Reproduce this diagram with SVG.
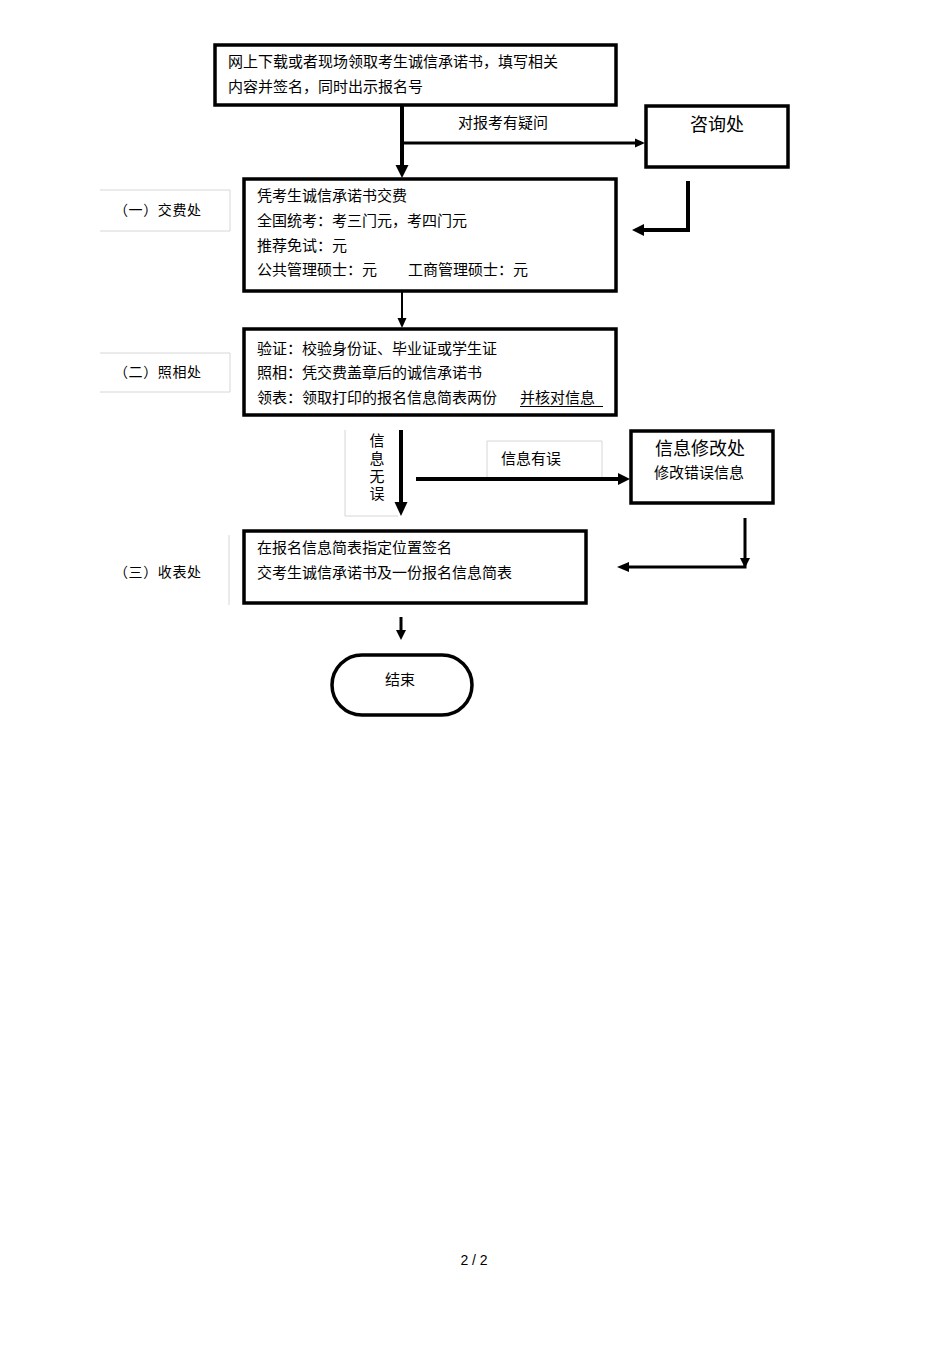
<svg xmlns="http://www.w3.org/2000/svg" width="950" height="1345" viewBox="0 0 950 1345">
<style>
.box{fill:#fff;stroke:#000;stroke-width:3.5}
.t{font-family:"Liberation Serif","Noto Sans CJK SC",serif;font-size:15px;fill:#000}
.tb{font-family:"Liberation Serif","Noto Sans CJK SC",serif;font-size:18px;fill:#000}
.lbl{font-family:"Liberation Serif","Noto Sans CJK SC",serif;font-size:14px;fill:#000}
.faint{fill:none;stroke:#d6d6d6;stroke-width:1}
.ln{fill:none;stroke:#000}
.head{fill:#000}
</style>
<rect width="950" height="1345" fill="#fff"/>

<g id="label-1">
<path class="faint" d="M100,190 H230 V231 H100"/>
<text class="lbl" x="114" y="215" textLength="87">（一）交费处</text>
</g>
<g id="label-2">
<path class="faint" d="M100,353 H230 V392 H100"/>
<text class="lbl" x="114" y="377" textLength="87">（二）照相处</text>
</g>
<g id="label-3">
<path class="faint" d="M229,535 V605"/>
<text class="lbl" x="114" y="577" textLength="87">（三）收表处</text>
</g>

<g id="connectors">
<line class="ln" x1="402" y1="106" x2="402" y2="166" stroke-width="4"/>
<polygon class="head" points="395.5,165 408.5,165 402,178"/>
<line class="ln" x1="402" y1="143" x2="636" y2="143" stroke-width="3"/>
<polygon class="head" points="635,138.5 635,147.5 645,143"/>
<path class="ln" d="M688,181 V230 H643" stroke-width="4"/>
<polygon class="head" points="644,224 644,236 632,230"/>
<line class="ln" x1="402" y1="292" x2="402" y2="319" stroke-width="2"/>
<polygon class="head" points="397.5,318 406.5,318 402,328"/>
<line class="ln" x1="401" y1="430" x2="401" y2="503" stroke-width="4"/>
<polygon class="head" points="394.5,502 407.5,502 401,516"/>
<line class="ln" x1="416" y1="479" x2="619" y2="479" stroke-width="4"/>
<polygon class="head" points="618,473 618,485 630,479"/>
<path class="ln" d="M745,518 V567 H628" stroke-width="3"/>
<polygon class="head" points="740,558 750,558 745,568"/>
<polygon class="head" points="629,562 629,572 617,567"/>
<line class="ln" x1="401" y1="617" x2="401" y2="631" stroke-width="3"/>
<polygon class="head" points="396,630 406,630 401,640"/>
</g>

<g id="edge-label-question">
<text class="t" x="458" y="128">对报考有疑问</text>
</g>
<g id="edge-label-ok">
<path class="faint" d="M345,430 V516 H398"/>
<text class="t" x="377" y="446" text-anchor="middle">信</text>
<text class="t" x="377" y="464" text-anchor="middle">息</text>
<text class="t" x="377" y="482" text-anchor="middle">无</text>
<text class="t" x="377" y="499" text-anchor="middle">误</text>
</g>
<g id="edge-label-error">
<path class="faint" d="M487,477 V441 H602 V477"/>
<text class="t" x="501" y="464">信息有误</text>
</g>

<g id="node-start">
<rect class="box" x="215" y="45" width="401" height="60"/>
<text class="t" x="228" y="67">网上下载或者现场领取考生诚信承诺书，填写相关</text>
<text class="t" x="228" y="92">内容并签名，同时出示报名号</text>
</g>
<g id="node-consult">
<rect class="box" x="646" y="106" width="142" height="61"/>
<text class="tb" x="717" y="131" text-anchor="middle">咨询处</text>
</g>
<g id="node-fee">
<rect class="box" x="244" y="179" width="372" height="112"/>
<text class="t" x="257" y="201">凭考生诚信承诺书交费</text>
<text class="t" x="257" y="226">全国统考：考三门元，考四门元</text>
<text class="t" x="257" y="251">推荐免试：元</text>
<text class="t" x="257" y="275">公共管理硕士：元</text>
<text class="t" x="408" y="275">工商管理硕士：元</text>
</g>
<g id="node-photo">
<rect class="box" x="244" y="329" width="372" height="86"/>
<text class="t" x="257" y="354">验证：校验身份证、毕业证或学生证</text>
<text class="t" x="257" y="378">照相：凭交费盖章后的诚信承诺书</text>
<text class="t" x="257" y="403">领表：领取打印的报名信息简表两份</text>
<text class="t" x="520" y="403">并核对信息</text>
<line x1="520" y1="406.5" x2="603" y2="406.5" stroke="#000" stroke-width="1"/>
</g>
<g id="node-modify">
<rect class="box" x="631" y="431" width="142" height="72"/>
<text class="tb" x="700" y="455" text-anchor="middle">信息修改处</text>
<text class="t" x="699" y="478" text-anchor="middle">修改错误信息</text>
</g>
<g id="node-collect">
<rect class="box" x="244" y="531" width="342" height="72" stroke-width="4"/>
<text class="t" x="257" y="553">在报名信息简表指定位置签名</text>
<text class="t" x="257" y="578">交考生诚信承诺书及一份报名信息简表</text>
</g>
<g id="node-end">
<rect class="box" x="332" y="655" width="140" height="60" rx="30" ry="30" stroke-width="3"/>
<text class="t" x="400" y="685" text-anchor="middle">结束</text>
</g>

<text x="474" y="1265" text-anchor="middle" font-family="Liberation Sans, sans-serif" font-size="14">2 / 2</text>
</svg>
